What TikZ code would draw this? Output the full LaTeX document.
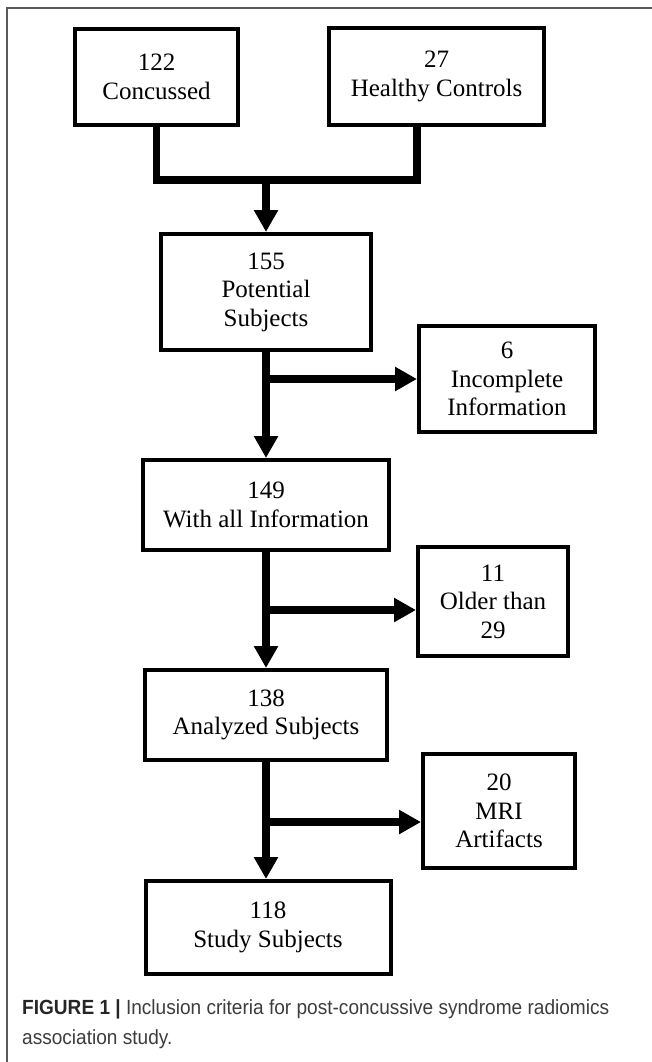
\documentclass[tikz,border=0pt]{standalone}
\usepackage{fontspec}
\setmainfont{Liberation Serif}
\newfontfamily\capfont[FakeStretch=0.93]{Liberation Sans}
\usepackage{tikz}
\usetikzlibrary{arrows.meta}
\definecolor{framegray}{RGB}{90,90,90}
\definecolor{captext}{RGB}{60,60,60}
\tikzstyle{arrow} = [line width=7.5pt,-{Triangle[width=23pt,length=22pt]}]
\tikzstyle{link} = [line width=7.5pt]
\tikzstyle{sqRec} = [rectangle, line width=4pt, draw=black, align=center, inner sep=0pt, font=\fontsize{25}{28.5}\selectfont]

\begin{document}
\begin{tikzpicture}[x=1pt,y=-1pt]
		\useasboundingbox (0,0) rectangle (652,1062);
		\draw [framegray, line width=2pt] (7,1062) -- (7,8) -- (652,8);
		\node (concussed) [sqRec, minimum width=163pt, minimum height=96pt] at (156.5,77) {122\\Concussed};
		\node (healthy) [sqRec, minimum width=215pt, minimum height=97pt] at (436.5,76.5) {27\\Healthy Controls};
		\node (potential) [sqRec, minimum width=210pt, minimum height=116pt] at (266,292) {155\\Potential\\Subjects};
		\node (incomplete) [sqRec, minimum width=176pt, minimum height=106pt] at (507,379) {6\\Incomplete\\Information};
		\node (allinfo) [sqRec, minimum width=246pt, minimum height=90pt] at (266,505) {149\\With all Information};
		\node (older) [sqRec, minimum width=150pt, minimum height=109pt] at (493,601.5) {11\\Older than\\29};
		\node (analyzed) [sqRec, minimum width=242pt, minimum height=90pt] at (266,715) {138\\Analyzed Subjects};
		\node (mri) [sqRec, minimum width=152pt, minimum height=114pt] at (499,811) {20\\MRI\\Artifacts};
		\node (study) [sqRec, minimum width=245pt, minimum height=93pt] at (268,927.5) {118\\Study Subjects};
		\coordinate (merge) at (266,180);
		\coordinate (olderin) at ([yshift=-8.5pt]older.west);
		\coordinate (mriin) at ([yshift=-11pt]mri.west);
		\draw [link] (concussed.south) |- (merge) -| ([xshift=-19.5pt]healthy.south);
		\draw [arrow] (merge) -- (potential.north);
		\draw [arrow] (potential.south) -- (allinfo.north);
		\draw [arrow] (potential.south |- incomplete.west) -- (incomplete.west);
		\draw [arrow] (allinfo.south) -- (analyzed.north);
		\draw [arrow] (allinfo.south |- olderin) -- (olderin);
		\draw [arrow] (analyzed.south) -- (analyzed.south |- study.north);
		\draw [arrow] (analyzed.south |- mriin) -- (mriin);
		\node (caption) [anchor=north west, align=left, inner sep=0pt, text=captext, font=\capfont\fontsize{20.5}{30}\selectfont] at (22,999) {{\bfseries\color{black!85} FIGURE 1 |} Inclusion criteria for post-concussive syndrome radiomics\\association study.};
	\end{tikzpicture}
\end{document}
